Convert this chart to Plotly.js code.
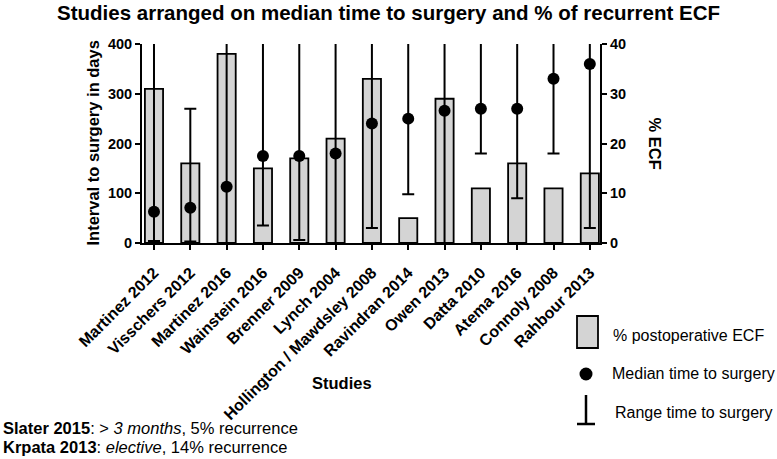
<!DOCTYPE html>
<html>
<head>
<meta charset="utf-8">
<script src="https://cdn.plot.ly/plotly-3.0.1.min.js"></script>
<style>html,body{margin:0;padding:0;background:#fff;}#chart{width:777px;height:459px;}</style>
</head>
<body>
<div id="chart"></div>
<script>
const categories = ["Martinez 2012","Visschers 2012","Martinez 2016","Wainstein 2016","Brenner 2009","Lynch 2004","Hollington / Mawdsley 2008","Ravindran 2014","Owen 2013","Datta 2010","Atema 2016","Connoly 2008","Rahbour 2013"];
const ecfPercent = [31,16,38,15,17,21,33,5,29,11,16,11,14];
const medianDays = [63,71,113,175,175,180,240,250,266,270,270,330,360];
const rangeLowDays = [4,3,0,35,6,0,30,98,0,180,90,180,30];
const rangeHighDays = [730,270,900,730,1095,730,900,730,730,540,730,540,1000];
const leftTicks = [0,100,200,300,400];
const rightTicks = [0,10,20,30,40];

const FONT = "Liberation Sans, Arial, Helvetica, sans-serif";
const W = 777, H = 459;
const M = {l:142, r:177, t:44, b:216};
const pw = W - M.l - M.r, ph = H - M.t - M.b;
const px = x => (x - M.l) / pw;
const py = y => (H - M.b - y) / ph;

const bars = {
  type:'bar', x:categories, y:ecfPercent, yaxis:'y', width:0.5,
  marker:{color:'#d4d4d4', line:{color:'#000', width:1.8}},
  name:'% postoperative ECF', showlegend:false, hoverinfo:'x+y'
};
const medians = {
  type:'scatter', mode:'markers', x:categories, y:medianDays, yaxis:'y2',
  marker:{color:'#000', size:12},
  error_y:{type:'data', symmetric:false,
    array: rangeHighDays.map((h,i)=>h-medianDays[i]),
    arrayminus: rangeLowDays.map((l,i)=>medianDays[i]-l),
    color:'#000', thickness:2, width:6},
  name:'Median time to surgery', showlegend:false
};

const lx = 586;
const shapes = [
  {type:'rect', xref:'paper', yref:'paper', x0:px(577), x1:px(598), y0:py(348), y1:py(316),
   fillcolor:'#d4d4d4', line:{color:'#000', width:1.8}},
  {type:'circle', xref:'paper', yref:'paper', x0:px(lx-6.5), x1:px(lx+6.5), y0:py(380.5), y1:py(367.5),
   fillcolor:'#000', line:{color:'#000', width:0}},
  {type:'line', xref:'paper', yref:'paper', x0:px(lx), x1:px(lx), y0:py(395), y1:py(424),
   line:{color:'#000', width:2.5}},
  {type:'line', xref:'paper', yref:'paper', x0:px(577), x1:px(595), y0:py(424), y1:py(424),
   line:{color:'#000', width:2.5}}
];

const ann = (x,y,text,o) => Object.assign({xref:'paper', yref:'paper', x:px(x), y:py(y), text:text,
  showarrow:false, font:{family:FONT, size:16, color:'#000'}}, o||{});

const annotations = [
  ann(92, 143.5, '<b>Interval to surgery in days</b>', {textangle:-90, xanchor:'center', yanchor:'middle', font:{family:FONT, size:16.5, color:'#000'}}),
  ann(655, 143.5, '<b>% ECF</b>', {textangle:90, xanchor:'center', yanchor:'middle', font:{family:FONT, size:16.5, color:'#000'}}),
  ann(342, 383, '<b>Studies</b>', {xanchor:'center', yanchor:'middle', font:{family:FONT, size:16.5, color:'#000'}}),
  ann(611, 335, '% postoperative ECF', {xanchor:'left', yanchor:'middle'}),
  ann(610, 374, 'Median time to surgery', {xanchor:'left', yanchor:'middle'}),
  ann(613, 412, 'Range time to surgery', {xanchor:'left', yanchor:'middle'}),
  ann(1, 428, '<b>Slater 2015</b>: > <i>3 months</i>, 5% recurrence', {xanchor:'left', yanchor:'middle', font:{family:FONT, size:16.5, color:'#000'}}),
  ann(1, 447, '<b>Krpata 2013</b>: <i>elective</i>, 14% recurrence', {xanchor:'left', yanchor:'middle', font:{family:FONT, size:16.5, color:'#000'}})
];

const tickFont = {family:FONT, size:14.5, color:'#000', weight:'bold'};
const catFont = {family:FONT, size:16, color:'#000', weight:'bold'};
const layout = {
  width:W, height:H, margin:M, paper_bgcolor:'#fff', plot_bgcolor:'#fff',
  font:{family:FONT, color:'#000'},
  title:{text:'<b>Studies arranged on median time to surgery and % of recurrent ECF</b>',
    font:{family:FONT, size:20.5, color:'#000'}, x:0.5, xanchor:'center', xref:'container',
    y:1-13/H, yanchor:'middle', yref:'container'},
  xaxis:{type:'category', range:[-0.33,12.28], showgrid:false, zeroline:false,
    showline:true, linecolor:'#000', linewidth:2, ticks:'outside', ticklen:5, tickwidth:2, tickcolor:'#000',
    tickangle:-45, tickfont:catFont, ticklabelstandoff:7, fixedrange:true},
  yaxis:{side:'right', range:[0,40], tickvals:rightTicks, showgrid:false, zeroline:false,
    showline:true, linecolor:'#000', linewidth:2, ticks:'outside', ticklen:5, tickwidth:2, tickcolor:'#000',
    tickfont:tickFont, fixedrange:true},
  yaxis2:{overlaying:'y', side:'left', range:[0,400], tickvals:leftTicks, showgrid:false, zeroline:false,
    showline:true, linecolor:'#000', linewidth:2, ticks:'outside', ticklen:5, tickwidth:2, tickcolor:'#000',
    tickfont:tickFont, fixedrange:true},
  shapes:shapes, annotations:annotations, showlegend:false
};
Plotly.newPlot('chart', [bars, medians], layout, {displayModeBar:false, staticPlot:true});
</script>
</body>
</html>
